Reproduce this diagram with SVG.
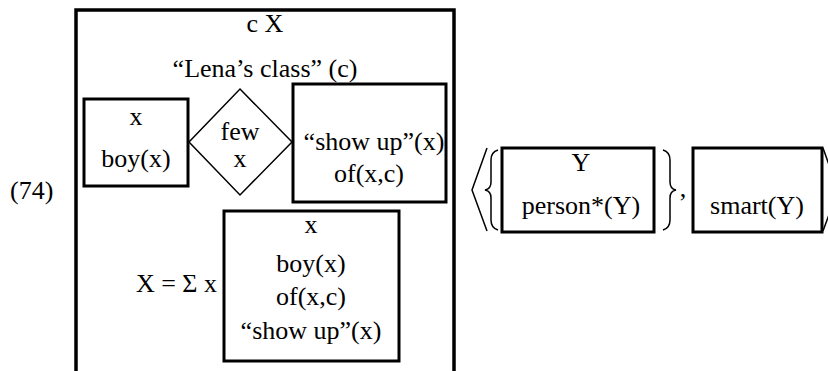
<svg xmlns="http://www.w3.org/2000/svg" width="828" height="371" viewBox="0 0 828 371">
<style>
text{font-family:"Liberation Serif","Times New Roman",serif;font-size:26px;fill:#000;text-anchor:middle}
.box{fill:none;stroke:#000;stroke-width:3}
.outer{fill:none;stroke:#000;stroke-width:3.5}
.thin{fill:none;stroke:#000;stroke-width:1.5}
.l{text-anchor:start}
.e{text-anchor:end}
</style>
<rect width="828" height="371" fill="#fff"/>
<text class="l" x="10" y="199">(74)</text>
<g id="outer">
<path class="outer" d="M76,380 V10 H454 V380"/>
<text x="265" y="32">c X</text>
<text x="265" y="77">“Lena’s class” (c)</text>
</g>
<g id="boy-box">
<rect class="box" x="84" y="99" width="104" height="87"/>
<text x="136" y="125">x</text>
<text x="136" y="167">boy(x)</text>
</g>
<g id="few">
<polygon class="thin" points="240,89 292,142 240,195 189,142"/>
<text x="240" y="140">few</text>
<text x="240" y="167">x</text>
</g>
<g id="showup-box">
<rect class="box" x="293" y="84" width="153" height="118"/>
<text x="374" y="150">“show up”(x)</text>
<text x="369" y="182">of(x,c)</text>
</g>
<g id="sum">
<text class="e" x="217" y="292">X = Σ x</text>
</g>
<g id="sum-box">
<rect class="box" x="224" y="211" width="175" height="150"/>
<text x="311" y="233">x</text>
<text x="311" y="272">boy(x)</text>
<text x="311" y="305">of(x,c)</text>
<text x="311" y="339">“show up”(x)</text>
</g>
<g id="delims">
<path class="thin" d="M487,148 L472,190 L487,231"/>
<path class="thin" d="M498,150 Q491,152 491,160 V182 Q491,189 485,190 Q491,191 491,198 V220 Q491,228 498,230"/>
<path class="thin" d="M663,150 Q670,152 670,160 V182 Q670,189 676,190 Q670,191 670,198 V220 Q670,228 663,230"/>
<path class="thin" d="M823,148 L838,190 L823,231"/>
<text x="683" y="197">,</text>
</g>
<g id="person-box">
<rect class="box" x="502" y="148" width="152" height="84"/>
<text x="581" y="171">Y</text>
<text x="581" y="214">person*(Y)</text>
</g>
<g id="smart-box">
<rect class="box" x="693" y="148" width="129" height="84"/>
<text x="757" y="214">smart(Y)</text>
</g>
<g id="connectors"></g>
</svg>
